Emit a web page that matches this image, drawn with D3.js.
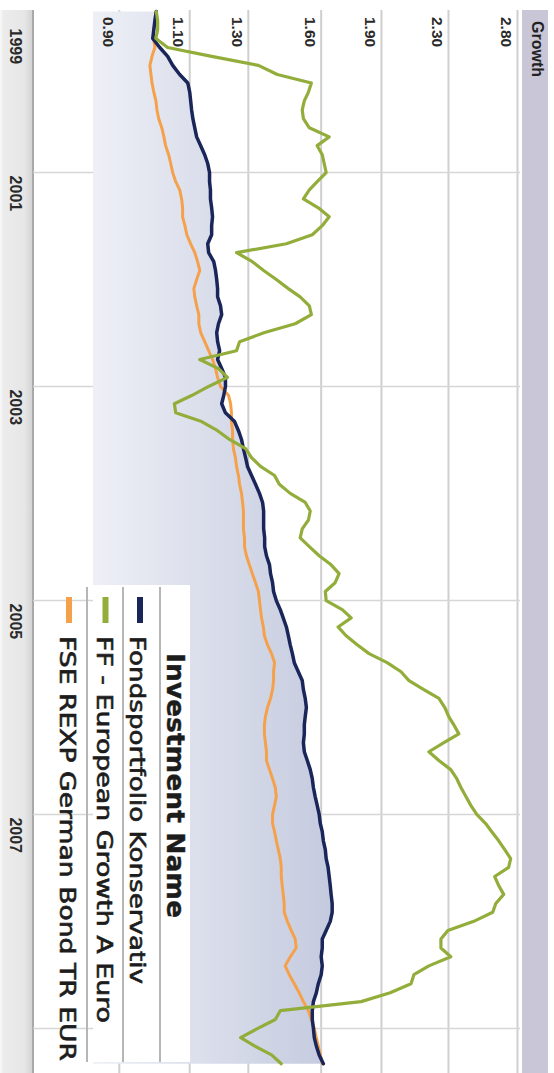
<!DOCTYPE html>
<html>
<head>
<meta charset="utf-8">
<script src="https://cdn.jsdelivr.net/npm/d3@7"></script>
<style>
  html, body { margin: 0; padding: 0; background: #fff; }
  svg { display: block; }
</style>
</head>
<body>
<svg id="chart" width="554" height="1073"></svg>
<script>
// ---- data -------------------------------------------------------------
const seriesNames = [
  "Fondsportfolio Konservativ",
  "FF - European Growth A Euro",
  "FSE REXP German Bond TR EUR"
];
const seriesColors = ["#1a2659", "#93ad3b", "#f5a14c"];

// monthly observations, July 1999 to May 2009
const firstMonth = new Date(1999, 6, 1);
const lastMonth = new Date(2009, 4, 1);
const months = d3.timeMonth.range(firstMonth, d3.timeMonth.offset(lastMonth, 1));

const konservativ = [
  1.000,0.996,0.993,0.990,1.010,1.033,1.048,1.069,1.094,1.100,
  1.103,1.106,1.110,1.116,1.122,1.135,1.148,1.158,1.164,1.164,
  1.167,1.167,1.171,1.174,1.171,1.171,1.158,1.161,1.178,1.184,
  1.188,1.191,1.191,1.201,1.205,1.194,1.188,1.191,1.198,1.191,
  1.205,1.218,1.218,1.212,1.205,1.218,1.250,1.264,1.275,1.282,
  1.290,1.297,1.312,1.327,1.342,1.354,1.358,1.358,1.358,1.362,
  1.362,1.369,1.381,1.385,1.393,1.397,1.408,1.424,1.436,1.449,
  1.457,1.465,1.474,1.482,1.499,1.516,1.521,1.529,1.534,1.529,
  1.525,1.525,1.521,1.525,1.538,1.551,1.560,1.565,1.573,1.582,
  1.591,1.596,1.605,1.610,1.619,1.623,1.632,1.637,1.642,1.646,
  1.651,1.651,1.642,1.623,1.605,1.605,1.600,1.605,1.600,1.587,
  1.578,1.565,1.560,1.560,1.565,1.569,1.578,1.591,1.610
];

const europeanGrowth = [
  1.000,1.004,1.004,0.999,1.033,1.171,1.338,1.412,1.556,1.543,
  1.525,1.516,1.521,1.547,1.637,1.582,1.605,1.614,1.623,1.582,
  1.547,1.521,1.587,1.637,1.605,1.560,1.449,1.257,1.315,1.358,
  1.408,1.457,1.507,1.547,1.556,1.486,1.362,1.268,1.257,1.132,
  1.194,1.225,1.161,1.106,1.053,1.057,1.138,1.191,1.232,1.290,
  1.312,1.346,1.401,1.420,1.465,1.529,1.551,1.543,1.516,1.507,
  1.547,1.591,1.646,1.684,1.665,1.619,1.623,1.699,1.743,1.679,
  1.718,1.773,1.834,1.931,2.009,2.055,2.144,2.238,2.276,2.302,
  2.335,2.369,2.270,2.175,2.238,2.315,2.355,2.383,2.417,2.451,
  2.493,2.557,2.602,2.654,2.700,2.746,2.730,2.624,2.654,2.692,
  2.632,2.609,2.472,2.296,2.251,2.251,2.315,2.175,2.084,2.067,
  1.948,1.793,1.424,1.404,1.334,1.272,1.323,1.389,1.428
];

const rexp = [
  1.000,0.999,0.993,0.993,0.996,0.988,0.982,0.985,0.988,0.993,
  0.999,1.002,1.007,1.016,1.022,1.027,1.036,1.042,1.048,1.057,
  1.069,1.075,1.078,1.078,1.085,1.091,1.103,1.116,1.125,1.132,
  1.122,1.113,1.116,1.122,1.129,1.129,1.135,1.148,1.161,1.174,
  1.184,1.191,1.201,1.229,1.236,1.239,1.239,1.243,1.243,1.246,
  1.253,1.257,1.264,1.268,1.275,1.279,1.282,1.282,1.282,1.286,
  1.286,1.293,1.304,1.315,1.327,1.338,1.342,1.346,1.350,1.357,
  1.361,1.373,1.389,1.401,1.397,1.397,1.393,1.385,1.373,1.365,
  1.361,1.361,1.365,1.369,1.369,1.381,1.393,1.404,1.408,1.401,
  1.393,1.393,1.401,1.408,1.416,1.424,1.428,1.428,1.432,1.436,
  1.440,1.440,1.453,1.469,1.486,1.490,1.465,1.444,1.461,1.482,
  1.503,1.521,1.543,1.556,1.569,1.578,1.587,1.596,1.605
];

const valueTicks = [0.9, 1.1, 1.3, 1.6, 1.9, 2.3, 2.8];
const yearLabels = [1999, 2001, 2003, 2005, 2007];
const gridYears = [2001, 2003, 2005, 2007, 2009];

// ---- layout (chart is drawn landscape, then turned a quarter clockwise) --
const W = 1073, H = 554;
const plotTop = 34, plotBottom = 461, stripTop = 521;

const svg = d3.select("#chart");
const defs = svg.append("defs");

const areaGrad = defs.append("linearGradient")
  .attr("id", "areaGrad").attr("gradientUnits", "userSpaceOnUse")
  .attr("x1", 0).attr("y1", plotBottom).attr("x2", 0).attr("y2", 215);
areaGrad.append("stop").attr("offset", 0).attr("stop-color", "#eef0f6");
areaGrad.append("stop").attr("offset", 1).attr("stop-color", "#c3c9de");

const stripGrad = defs.append("linearGradient")
  .attr("id", "stripGrad").attr("gradientUnits", "userSpaceOnUse")
  .attr("x1", 0).attr("y1", stripTop).attr("x2", 0).attr("y2", H);
stripGrad.append("stop").attr("offset", 0).attr("stop-color", "#d2d2d2");
stripGrad.append("stop").attr("offset", 0.25).attr("stop-color", "#e6e6e6");
stripGrad.append("stop").attr("offset", 0.9).attr("stop-color", "#ececec");
stripGrad.append("stop").attr("offset", 1).attr("stop-color", "#fafafa");

const g = svg.append("g").attr("transform", `translate(${554},0) rotate(90)`);

const x = d3.scaleTime()
  .domain([firstMonth, new Date(2009, 5, 1)])
  .range([11.5, 1072.8]);
const y = d3.scaleLog()
  .domain([0.835, 2.82])
  .range([plotBottom, plotTop]);

const sans = "'Liberation Sans', Arial, sans-serif";
const verd = "'DejaVu Sans', Verdana, sans-serif";

// header band
g.append("rect").attr("x", 10).attr("y", 6).attr("width", W - 10).attr("height", 26)
  .attr("fill", "#c9c7d7");
g.append("text").attr("x", 21).attr("y", 22)
  .attr("font-family", sans).attr("font-weight", "bold").attr("font-size", 16)
  .attr("fill", "#222").text("Growth");

// date axis strip
g.append("rect").attr("x", 10).attr("y", stripTop).attr("width", W - 10).attr("height", H - stripTop)
  .attr("fill", "url(#stripGrad)");
g.append("line").attr("x1", 10).attr("x2", W).attr("y1", stripTop).attr("y2", stripTop)
  .attr("stroke", "#a9a9a9").attr("stroke-width", 2);

// value grid
g.append("g").selectAll("line").data(valueTicks).join("line")
  .attr("x1", 10).attr("x2", W)
  .attr("y1", d => y(d)).attr("y2", d => y(d))
  .attr("stroke", "#cfcfcf").attr("stroke-width", 2);

// year grid (runs through the plot and the lower margin)
g.append("g").selectAll("line").data(gridYears).join("line")
  .attr("x1", d => x(new Date(d, 0, 1))).attr("x2", d => x(new Date(d, 0, 1)))
  .attr("y1", plotTop).attr("y2", stripTop)
  .attr("stroke", "#d6d6d6").attr("stroke-width", 1.5);

// shaded area under the portfolio line
const rows = months.map((m, i) => ({ date: m, k: konservativ[i], e: europeanGrowth[i], r: rexp[i] }));
g.append("path").datum(rows)
  .attr("d", d3.area().x(d => x(d.date)).y0(plotBottom).y1(d => y(d.k)))
  .attr("fill", "url(#areaGrad)");

// value labels
g.append("g").selectAll("text").data(valueTicks).join("text")
  .attr("x", 17).attr("y", d => y(d) + 16.5)
  .attr("font-family", sans).attr("font-weight", "bold").attr("font-size", 15.5)
  .attr("fill", "#2a2a2a").text(d => d3.format(".2f")(d));

// lines
const line = key => d3.line().x(d => x(d.date)).y(d => y(d[key]));
const drawSeries = (key, color, width) =>
  g.append("path").datum(rows).attr("d", line(key))
    .attr("fill", "none").attr("stroke", color).attr("stroke-width", width)
    .attr("stroke-linejoin", "round").attr("stroke-linecap", "round");
drawSeries("r", seriesColors[2], 3);
drawSeries("k", seriesColors[0], 3.5);
drawSeries("e", seriesColors[1], 3.2);

// year labels
g.append("g").selectAll("text").data(yearLabels).join("text")
  .attr("x", (d, i) => i === 0 ? x.range()[0] + 17 : x(new Date(d, 0, 1)) + 3)
  .attr("y", 544)
  .attr("font-family", sans).attr("font-weight", "bold").attr("font-size", 16)
  .attr("fill", "#2a2a2a").text(d => d);

// legend
const lg = g.append("g");
lg.append("rect").attr("x", 585).attr("y", 364).attr("width", 477).attr("height", plotBottom - 364)
  .attr("fill", "#fff");
lg.selectAll("line").data([394, 431, 467]).join("line")
  .attr("x1", 587).attr("x2", 1062).attr("y1", d => d).attr("y2", d => d)
  .attr("stroke", "#b6b6b6").attr("stroke-width", 2);
lg.append("text").attr("x", 653).attr("y", 387)
  .attr("font-family", verd).attr("font-weight", "bold").attr("font-size", 24)
  .attr("textLength", 265).attr("lengthAdjust", "spacingAndGlyphs")
  .attr("fill", "#1c1c1c").attr("stroke", "#1c1c1c").attr("stroke-width", 0.4)
  .text("Investment Name");

const legendRows = [
  { mark: 414, base: 424.5, len: 348 },
  { mark: 448.5, base: 457, len: 387 },
  { mark: 485, base: 494, len: 425 }
];
legendRows.forEach((r, i) => {
  lg.append("rect").attr("x", 597).attr("y", r.mark - 3).attr("width", 26).attr("height", 6)
    .attr("fill", seriesColors[i]);
  lg.append("text").attr("x", 636).attr("y", r.base)
    .attr("font-family", verd).attr("font-size", 20.5)
    .attr("textLength", r.len).attr("lengthAdjust", "spacingAndGlyphs")
    .attr("fill", "#1c1c1c").attr("stroke", "#1c1c1c").attr("stroke-width", 0.6)
    .text(seriesNames[i]);
});
</script>
</body>
</html>
